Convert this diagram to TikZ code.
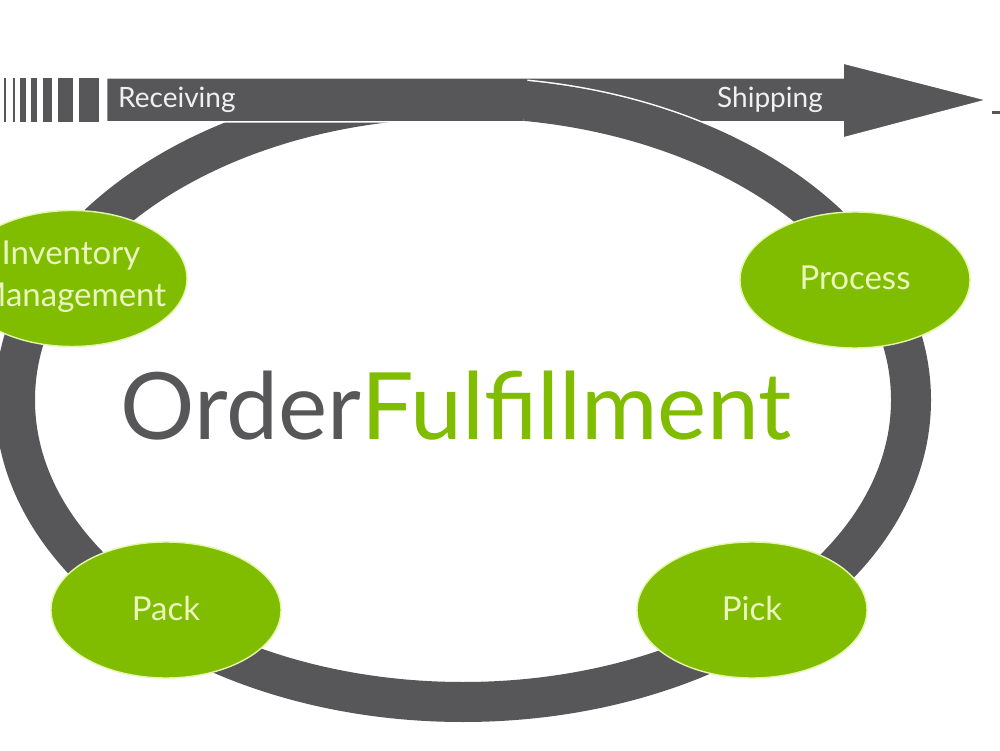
\documentclass[tikz,border=0pt]{standalone}
\usepackage{fontspec}
\setmainfont{Lato}
\usetikzlibrary{shapes.geometric}
\definecolor{ringgray}{RGB}{87,87,90}
\definecolor{leaf}{RGB}{128,188,0}
\definecolor{leaftext}{RGB}{234,246,190}
\definecolor{leafedge}{RGB}{228,246,170}
\definecolor{bandtext}{RGB}{240,240,240}
\tikzset{
  ring/.style={draw=white, line width=1.5pt, double=ringgray, double distance=40pt},
  band/.style={fill=ringgray, draw=white, line width=1.5pt, line join=miter},
  stripe/.style={fill=ringgray, draw=none},
  leafell/.style={ellipse, fill=leaf, draw=leafedge, line width=1.4pt,
    minimum width=230pt, minimum height=136pt, inner sep=0pt},
  leaflabel/.style={text=leaftext, inner sep=0pt, anchor=base, font=\fontsize{33}{40}\selectfont},
  bandlabel/.style={text=bandtext, inner sep=0pt, anchor=base west, font=\fontsize{28}{34}\selectfont},
}
\begin{document}
\begin{tikzpicture}[x=1pt,y=1pt]
\useasboundingbox (0,0) rectangle (1000,750);
\clip (0,0) rectangle (1000,750);
\fill[white] (0,0) rectangle (1000,750);
% ring
\coordinate (ringc) at (463,350);
\draw[ring] (ringc) ellipse [x radius=448, y radius=302];
% stripes
\foreach \a/\b in {4/6,12.7/15.3,20/26,30.7/36.7,42.7/52,58/72.7,78.7/99.3}
  \fill[stripe] (\a,628) rectangle (\b,672);
% arrow
\draw[band] (106.7,628) -- (106.7,672) -- (843,672) -- (843,687) -- (987,650) -- (843,612) -- (843,628) -- cycle;
% ring passing over the arrow on the right
\draw[ring] ([shift={(ringc)}]82:448 and 302) arc[start angle=82, end angle=20, x radius=448, y radius=302];
% patch hiding the seam where the overlay starts
\fill[ringgray] ([shift={(ringc)}]81:430 and 284) arc[start angle=81, end angle=84, x radius=430, y radius=284]
  -- ([shift={(ringc)}]84:466 and 320) arc[start angle=84, end angle=81, x radius=466, y radius=320] -- cycle;
\draw[ringgray, line width=3pt] (992,637) -- (1000,637);
% band labels
\node[bandlabel] (recv) at (118,642) {Receiving};
\node[bandlabel] (ship) at (717,642) {Shipping};
% stages
\node[leafell] (inv) at (72,471.5) {};
\node[leafell] (proc) at (855,470) {};
\node[leafell] (pack) at (166,140) {};
\node[leafell] (pick) at (752,140) {};
\node[leaflabel] (invA) at (71,485) {Inventory};
\node[leaflabel] (invB) at (71,443) {Management};
\node[leaflabel] (procT) at (855,460) {Process};
\node[leaflabel] (packT) at (166,130) {Pack};
\node[leaflabel] (pickT) at (752,130) {Pick};
% title
\node[inner sep=0pt, anchor=base, font=\fontsize{93}{103}\selectfont] (title) at (456,310)
  {\textcolor{ringgray}{Order}\textcolor{leaf}{Fulfillment}};
\end{tikzpicture}
\end{document}
